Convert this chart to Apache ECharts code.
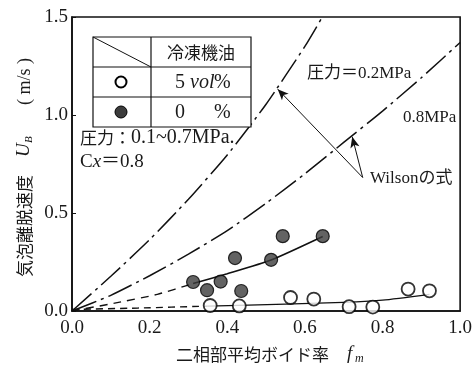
<!DOCTYPE html>
<html><head><meta charset="utf-8">
<script src="https://cdn.jsdelivr.net/npm/echarts@6/dist/echarts.min.js"></script>
<style>html,body{margin:0;padding:0;background:#fff}#c{width:475px;height:373px}</style>
</head><body><div id="c"></div>
<script>
// Data
const xTicks = [0.0, 0.2, 0.4, 0.6, 0.8, 1.0];
const yTicks = [0.0, 0.5, 1.0, 1.5];
const oil5Points = [[0.356,0.028],[0.431,0.026],[0.563,0.069],[0.623,0.061],[0.714,0.022],[0.775,0.02],[0.866,0.112],[0.921,0.103]];
const oil0Points = [[0.312,0.148],[0.348,0.106],[0.383,0.15],[0.42,0.27],[0.436,0.102],[0.513,0.261],[0.543,0.382],[0.646,0.382]];
const wilson02 = [[0,0],[0.1,0.177],[0.2,0.364],[0.3,0.57],[0.4,0.796],[0.5,1.055],[0.6,1.35],[0.645,1.5]];
const wilson08 = [[0,0],[0.1,0.08],[0.2,0.18],[0.3,0.29],[0.4,0.41],[0.5,0.55],[0.6,0.7],[0.7,0.86],[0.8,1.02],[0.9,1.19],[1.0,1.37]];
const oil0FitDashed = [[0,0],[0.11,0.04],[0.22,0.085],[0.312,0.14]];
const oil0FitSolid = [[0.312,0.14],[0.4,0.19],[0.513,0.26],[0.646,0.38]];
const oil5FitDashed = [[0,0.008],[0.17,0.015],[0.35,0.025]];
const oil5FitSolid = [[0.35,0.025],[0.55,0.035],[0.72,0.045],[0.8,0.055],[0.921,0.085]];
const arrowFrom = [0.749,0.681];
const arrowTo02 = [0.53,1.132];
const arrowTo08 = [0.722,0.889];

const FF = "'Liberation Serif','Noto Sans CJK JP',serif";
const TC = '#1a1a1a';
const chart = echarts.init(document.getElementById('c'), null, {renderer:'canvas'});

function lineSeries(data, type, width){
  return {type:'line', data:data, symbol:'none', smooth:0.2, animation:false, silent:true,
    lineStyle:{color:'#111', width:width||1.4, type:type}, z:2};
}
const dashDot = [26,5,3,5];

const option = {
  backgroundColor:'#fff',
  animation:false,
  grid:{left:72, right:7, top:17, bottom:62, show:true, borderColor:'#111', borderWidth:1.6, backgroundColor:'transparent'},
  xAxis:{type:'value', min:0, max:1, interval:0.2,
    axisLine:{show:true, lineStyle:{color:'#111', width:1.6}},
    axisTick:{show:false}, splitLine:{show:false},
    axisLabel:{color:TC, fontFamily:FF, fontSize:19, margin:8, formatter:v=>v.toFixed(1)}},
  yAxis:{type:'value', min:0, max:1.5, interval:0.5,
    axisLine:{show:true, lineStyle:{color:'#111', width:1.6}},
    axisTick:{show:true, inside:true, length:4, lineStyle:{color:'#111'}}, splitLine:{show:false},
    axisLabel:{color:TC, fontFamily:FF, fontSize:19, margin:4, formatter:v=>v.toFixed(1)}},
  series:[
    Object.assign(lineSeries(wilson02, dashDot, 1.5), {markLine:{silent:true, animation:false, symbol:['none','arrow'], symbolSize:[7,11],
      lineStyle:{color:'#111', width:1, type:'solid'}, label:{show:false},
      data:[[{coord:arrowFrom},{coord:arrowTo02}],[{coord:arrowFrom},{coord:arrowTo08}]]}}),
    lineSeries(wilson08, dashDot, 1.5),
    lineSeries(oil0FitDashed, [8,6], 1.4),
    lineSeries(oil0FitSolid, 'solid', 1.6),
    lineSeries(oil5FitDashed, [7,5], 1.4),
    lineSeries(oil5FitSolid, 'solid', 1.3),
    {type:'scatter', data:oil0Points, symbol:'circle', symbolSize:13, z:5,
      itemStyle:{color:'#3c3c3c', borderColor:'#000', borderWidth:1.2}},
    {type:'scatter', data:oil5Points, symbol:'circle', symbolSize:13, z:5,
      itemStyle:{color:'#fff', borderColor:'#000', borderWidth:1.8}}
  ],
  graphic:[
    // legend table
    {type:'rect', shape:{x:93,y:37,width:158,height:90}, style:{fill:'#fff', stroke:'#111', lineWidth:1.2}, z:10},
    {type:'line', shape:{x1:151,y1:37,x2:151,y2:127}, style:{stroke:'#111', lineWidth:1.2}, z:11},
    {type:'line', shape:{x1:93,y1:67,x2:251,y2:67}, style:{stroke:'#111', lineWidth:1.2}, z:11},
    {type:'line', shape:{x1:93,y1:97,x2:251,y2:97}, style:{stroke:'#111', lineWidth:1.2}, z:11},
    {type:'line', shape:{x1:93,y1:37,x2:151,y2:67}, style:{stroke:'#111', lineWidth:1}, z:11},
    {type:'text', x:201, y:53, z:11, style:{text:'冷凍機油', font:"17px 'Noto Sans CJK JP'", fill:TC, textAlign:'center', textVerticalAlign:'middle'}},
    {type:'circle', shape:{cx:121,cy:82,r:5.5}, style:{fill:'#fff', stroke:'#000', lineWidth:2}, z:11},
    {type:'circle', shape:{cx:121,cy:112,r:6}, style:{fill:'#3c3c3c', stroke:'#000', lineWidth:1}, z:11},
    {type:'text', x:175, y:83, z:11, style:{text:'5', font:"20px 'Liberation Serif'", fill:TC, textAlign:'left', textVerticalAlign:'middle'}},
    {type:'text', x:190, y:83, z:11, style:{text:'vol', font:"italic 20px 'Liberation Serif'", fill:TC, textAlign:'left', textVerticalAlign:'middle'}},
    {type:'text', x:214, y:83, z:11, style:{text:'%', font:"20px 'Liberation Serif'", fill:TC, textAlign:'left', textVerticalAlign:'middle'}},
    {type:'text', x:175, y:113, z:11, style:{text:'0', font:"20px 'Liberation Serif'", fill:TC, textAlign:'left', textVerticalAlign:'middle'}},
    {type:'text', x:214, y:113, z:11, style:{text:'%', font:"20px 'Liberation Serif'", fill:TC, textAlign:'left', textVerticalAlign:'middle'}},
    {type:'text', x:80, y:138, z:11, style:{text:'{c|圧力：}{n|0.1~0.7MPa.}', textAlign:'left', textVerticalAlign:'middle',
      rich:{c:{fontFamily:'Noto Sans CJK JP', fontSize:17, fill:TC}, n:{fontFamily:'Liberation Serif', fontSize:20, fill:TC}}}},
    {type:'text', x:80, y:162, z:11, style:{text:'{n|C}{i|x}{n|＝0.8}', textAlign:'left', textVerticalAlign:'middle',
      rich:{n:{fontFamily:FF, fontSize:19, fill:TC}, i:{fontFamily:FF, fontStyle:'italic', fontSize:19, fill:TC}}}},
    // curve labels
    {type:'text', x:307, y:74, z:11, style:{text:'圧力＝0.2MPa', font:"17px 'Liberation Serif','Noto Sans CJK JP'", fill:TC, textVerticalAlign:'middle'}},
    {type:'text', x:403, y:118, z:11, style:{text:'0.8MPa', font:"17px 'Liberation Serif'", fill:TC, textVerticalAlign:'middle'}},
    {type:'text', x:370, y:179, z:11, style:{text:'Wilsonの式', font:"17px 'Liberation Serif','Noto Sans CJK JP'", fill:TC, textVerticalAlign:'middle'}},
    // x axis name
    {type:'text', x:176, y:355, style:{text:'二相部平均ボイド率', font:"17px 'Noto Sans CJK JP'", fill:TC, textVerticalAlign:'middle'}},
    {type:'text', x:347, y:354, style:{text:'f', font:"italic 19px 'Liberation Serif'", fill:TC, textVerticalAlign:'middle'}},
    {type:'text', x:355, y:359, style:{text:'m', font:"italic 12px 'Liberation Serif'", fill:TC, textVerticalAlign:'middle'}},
    // y axis name (rotated)
    {type:'group', x:25, y:168, rotation:Math.PI/2, children:[
      {type:'text', x:-109, y:0, style:{text:'気泡離脱速度', font:"17px 'Noto Sans CJK JP'", fill:TC, textVerticalAlign:'middle'}},
      {type:'text', x:11, y:-1, style:{text:'U', font:"italic 19px 'Liberation Serif'", fill:TC, textVerticalAlign:'middle'}},
      {type:'text', x:25, y:4, style:{text:'B', font:"italic 11px 'Liberation Serif'", fill:TC, textVerticalAlign:'middle'}},
      {type:'text', x:63, y:0, style:{text:'( m/s )', font:"18px 'Liberation Serif'", fill:TC, textVerticalAlign:'middle'}}
    ]}
  ]
};
chart.setOption(option);
</script></body></html>
